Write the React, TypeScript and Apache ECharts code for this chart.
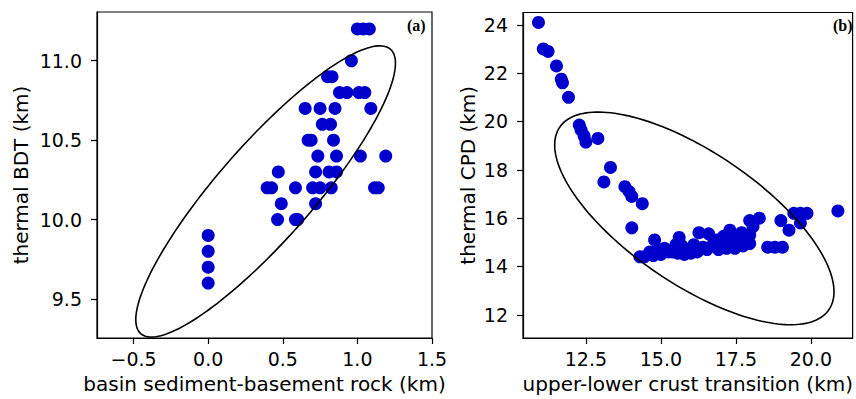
import React, { useEffect, useRef } from "react";
import * as echarts from "echarts";

// Panel (a): basin sediment-basement rock vs thermal BDT
const A_X = [
  1.0, 1.04, 1.08,
  0.96,
  0.8, 0.83,
  0.88, 0.93, 1.01, 1.05,
  0.65, 0.75, 0.85, 1.09,
  0.765, 0.82,
  0.67, 0.69, 0.84,
  0.735, 0.86, 1.02, 1.19,
  0.47, 0.72, 0.81, 0.86,
  0.395, 0.425, 0.585, 0.7, 0.75, 0.825, 1.115, 1.14,
  0.49, 0.72,
  0.465, 0.585, 0.6,
  0, 0, 0, 0,
];
const A_Y = [
  11.2, 11.2, 11.2,
  11.0,
  10.9, 10.9,
  10.8, 10.8, 10.8, 10.8,
  10.7, 10.7, 10.7, 10.7,
  10.6, 10.6,
  10.5, 10.5, 10.5,
  10.4, 10.4, 10.4, 10.4,
  10.3, 10.3, 10.3, 10.3,
  10.2, 10.2, 10.2, 10.2, 10.2, 10.2, 10.2, 10.2,
  10.1, 10.1,
  10.0, 10.0, 10.0,
  9.9, 9.8, 9.7, 9.6,
];

// Panel (b): upper-lower crust transition vs thermal CPD
const B_X = [
  10.92, 11.08, 11.24, 11.52, 11.68, 11.72, 11.92, 12.28, 12.34, 12.44, 12.5, 12.9,
  13.32, 13.1, 13.8, 13.94, 14.03, 14.38, 14.03, 14.3,
  14.45, 14.6, 14.63, 14.79, 14.9, 15.12, 15.0, 15.39, 15.56, 15.61, 15.5, 15.78,
  15.9, 16.0, 16.21, 16.27, 16.54, 16.59, 16.4, 16.87, 16.92, 17.09, 17.19, 17.3,
  17.47, 17.47, 17.69, 17.74, 17.6, 17.96, 17.96, 18.07, 18.28, 17.96, 18.56, 18.8,
  19.05, 19.0, 19.27, 19.43, 19.65, 19.87, 19.65, 20.9,
  14.75, 15.25, 15.7, 16.1, 16.75, 17.0, 17.35, 17.85,
];
const B_Y = [
  24.1, 23.0, 22.9, 22.3, 21.75, 21.6, 21.0, 19.85, 19.65, 19.4, 19.15, 19.3,
  18.1, 17.5, 17.3, 17.1, 16.9, 16.6, 15.6, 14.4,
  14.4, 14.5, 14.6, 15.1, 14.7, 14.75, 14.5, 14.6, 14.55, 15.2, 14.9, 14.5,
  14.6, 14.55, 14.6, 15.4, 14.7, 15.35, 14.8, 15.1, 14.7, 15.25, 14.75, 15.5,
  15.1, 14.75, 15.4, 14.85, 15.0, 14.95, 15.9, 15.65, 16.0, 15.3, 14.8, 14.8,
  14.8, 15.9, 15.5, 16.2, 16.2, 16.2, 15.8, 16.3,
  14.45, 14.6, 14.85, 14.9, 14.95, 14.9, 15.0, 15.2,
];

// Confidence ellipses: [meanX, meanY, spreadX, spreadY, pearson]
const ELLIPSE_A = [0.385, 10.177, 0.87, 0.917, 0.88];
const ELLIPSE_B = [16.115, 15.99, 4.655, 4.4, -0.69];

// Tick labels
const A_XTICKS = [-0.5, 0.0, 0.5, 1.0, 1.5];
const A_YTICKS = [9.5, 10.0, 10.5, 11.0];
const B_XTICKS = [12.5, 15.0, 17.5, 20.0];
const B_YTICKS = [12, 14, 16, 18, 20, 22, 24];

const FONT = "DejaVu Sans";
const DOT = "#0000CD";

const fmt1 = (v: number) => v.toFixed(1).replace("-", "\u2212");
const fmt0 = (v: number) => String(Math.round(v));

function ellipseRender(params: any, api: any) {
  const mx = api.value(0), my = api.value(1), sx = api.value(2), sy = api.value(3), r = api.value(4);
  const rx = Math.sqrt(1 + r), ry = Math.sqrt(1 - r);
  const pts: number[][] = [];
  const n = 180;
  for (let i = 0; i <= n; i++) {
    const t = (i / n) * Math.PI * 2;
    const u = rx * Math.cos(t), v = ry * Math.sin(t);
    const xr = (u - v) / Math.SQRT2, yr = (u + v) / Math.SQRT2;
    pts.push(api.coord([mx + sx * xr, my + sy * yr]));
  }
  return {
    type: "polyline",
    shape: { points: pts },
    style: { fill: "none", stroke: "#000", lineWidth: 1.6 },
  };
}

function axisCommon(ticks: number[], fmt: (v: number) => string, margin: number) {
  return {
    axisLine: { show: true, onZero: false, lineStyle: { color: "#000", width: 1.2 } },
    axisTick: { show: true, inside: false, length: 6, lineStyle: { color: "#000", width: 1.2 }, customValues: ticks },
    axisLabel: { show: true, customValues: ticks, formatter: fmt, color: "#000", fontFamily: FONT, fontSize: 19, margin },
    splitLine: { show: false },
    nameTextStyle: { color: "#000", fontFamily: FONT, fontSize: 20 },
  };
}

export default function App() {
  const ref = useRef<HTMLDivElement>(null);
  useEffect(() => {
    if (!ref.current) return;
    const chart = echarts.init(ref.current, undefined, { renderer: "svg" });
    const dataA = A_X.map((x, i) => [x, A_Y[i]]);
    const dataB = B_X.map((x, i) => [x, B_Y[i]]);
    chart.setOption({
      animation: false,
      backgroundColor: "#fff",
      grid: [
        { left: 97, top: 12, width: 335, height: 326, show: true, borderColor: "#000", borderWidth: 1.2, backgroundColor: "transparent" },
        { left: 523, top: 12.5, width: 335.5, height: 325.5, show: true, borderColor: "#000", borderWidth: 1.2, backgroundColor: "transparent" },
      ],
      xAxis: [
        {
          type: "value", gridIndex: 0, min: -0.745, max: 1.5,
          name: "basin sediment-basement rock (km)", nameLocation: "middle", nameGap: 36,
          ...axisCommon(A_XTICKS, fmt1, 11),
        },
        {
          type: "value", gridIndex: 1, min: 10.404, max: 21.39,
          name: "upper-lower crust transition (km)", nameLocation: "middle", nameGap: 36,
          ...axisCommon(B_XTICKS, fmt1, 11),
        },
      ],
      yAxis: [
        {
          type: "value", gridIndex: 0, min: 9.254, max: 11.307,
          name: "thermal BDT (km)", nameLocation: "middle", nameGap: 66,
          ...axisCommon(A_YTICKS, fmt1, 15),
        },
        {
          type: "value", gridIndex: 1, min: 11.04, max: 24.51,
          name: "thermal CPD (km)", nameLocation: "middle", nameGap: 45,
          ...axisCommon(B_YTICKS, fmt0, 15),
        },
      ],
      graphic: [
        { type: "text", left: 407, top: 17, style: { text: "(a)", fontFamily: "Liberation Serif", fontWeight: "bold", fontSize: 16, fill: "#000" } },
        { type: "text", left: 833, top: 17, style: { text: "(b)", fontFamily: "Liberation Serif", fontWeight: "bold", fontSize: 16, fill: "#000" } },
      ],
      series: [
        { type: "scatter", xAxisIndex: 0, yAxisIndex: 0, data: dataA, symbolSize: 13, itemStyle: { color: DOT, opacity: 1 }, z: 2 },
        { type: "scatter", xAxisIndex: 1, yAxisIndex: 1, data: dataB, symbolSize: 13, itemStyle: { color: DOT, opacity: 1 }, z: 2 },
        { type: "custom", xAxisIndex: 0, yAxisIndex: 0, data: [ELLIPSE_A], renderItem: ellipseRender, encode: { x: 0, y: 1 }, clip: false, silent: true, z: 3 },
        { type: "custom", xAxisIndex: 1, yAxisIndex: 1, data: [ELLIPSE_B], renderItem: ellipseRender, encode: { x: 0, y: 1 }, clip: false, silent: true, z: 3 },
      ],
    });
    return () => chart.dispose();
  }, []);
  return <div ref={ref} style={{ width: 856, height: 399, position: "absolute", left: 0, top: 0 }} />;
}
